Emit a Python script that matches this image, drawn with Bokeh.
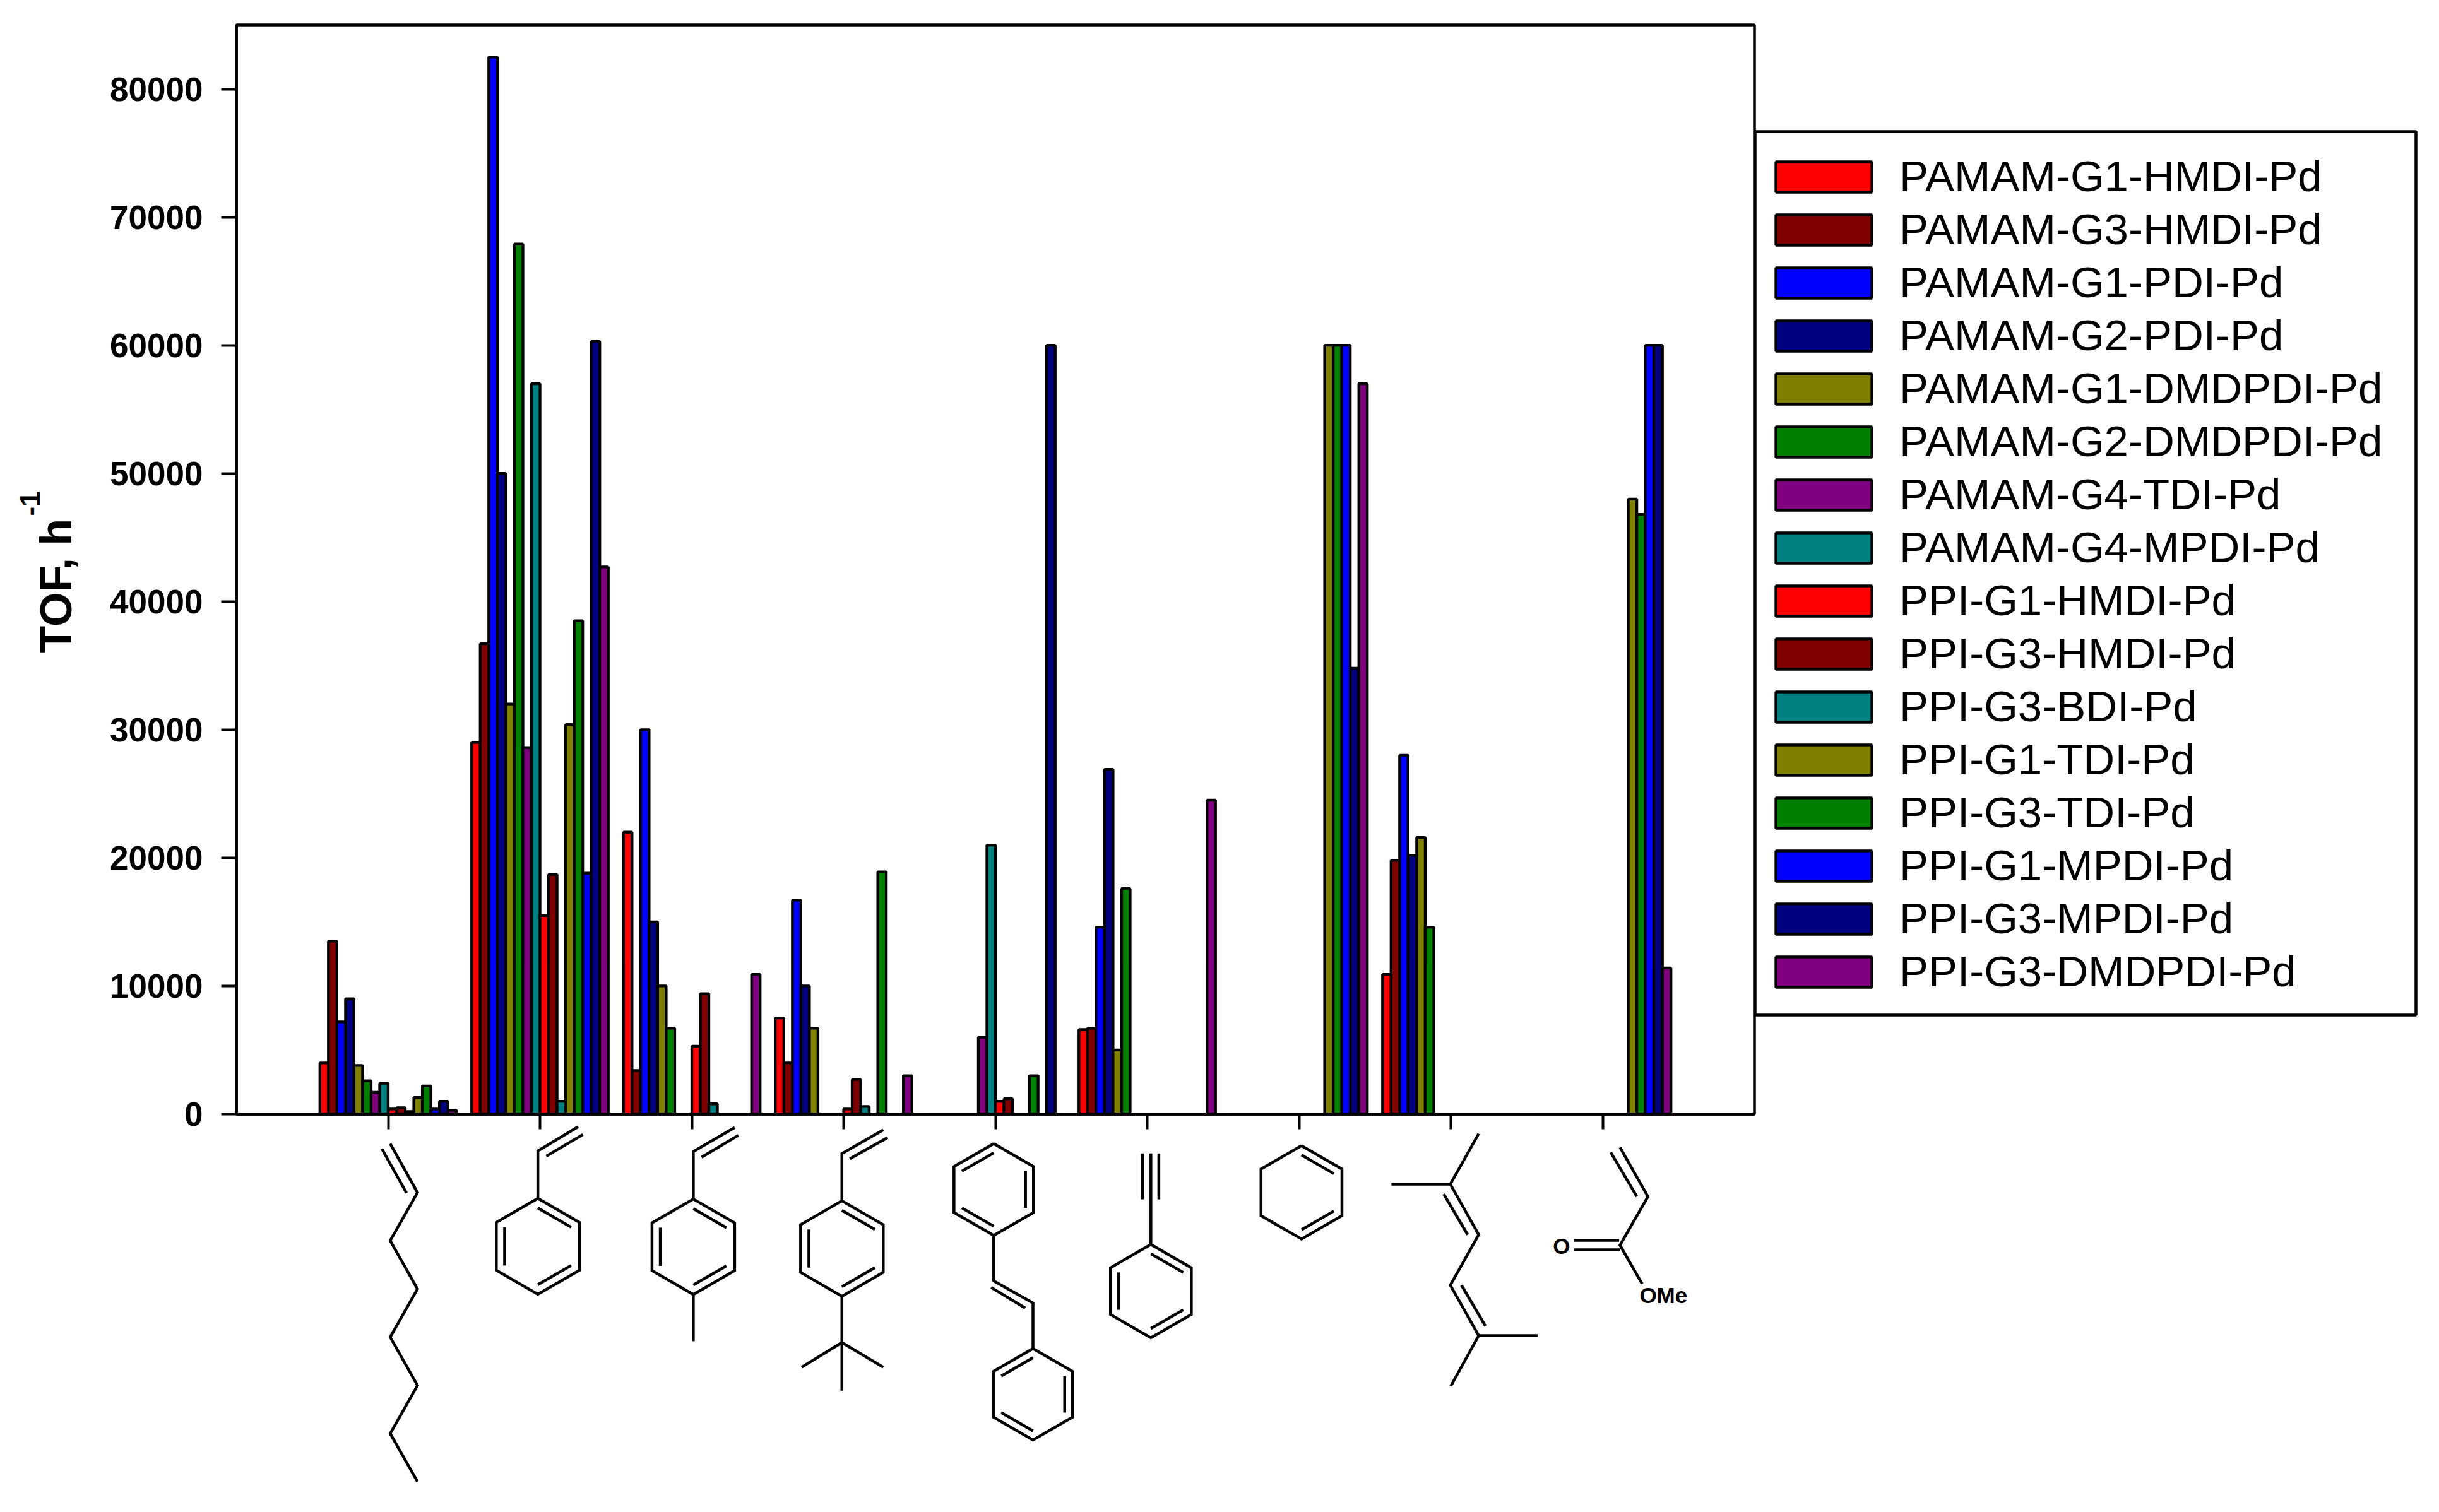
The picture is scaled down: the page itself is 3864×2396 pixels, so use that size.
import math
import numpy as np
from bokeh.plotting import figure
from bokeh.core.properties import value
from bokeh.models import Range1d, FixedTicker, Legend, LegendItem
from bokeh.embed import file_html
from bokeh.resources import INLINE

# TOF values, one list per catalyst, one entry per substrate (left to right)
substrate_pos = [1, 2, 3, 4, 5, 6, 7, 8, 9]
pamam_g1_hmdi = [4000, 29000, 22000, 7500, 0, 6600, 0, 10900, 0]
pamam_g3_hmdi = [13500, 36700, 3400, 4000, 0, 6700, 0, 19800, 0]
pamam_g1_pdi = [7200, 82500, 30000, 16700, 0, 14600, 0, 28000, 0]
pamam_g2_pdi = [9000, 50000, 15000, 10000, 0, 26900, 0, 20200, 0]
pamam_g1_dmdpdi = [3800, 32000, 10000, 6700, 0, 5000, 0, 21600, 0]
pamam_g2_dmdpdi = [2600, 67900, 6700, 0, 0, 17600, 0, 14600, 0]
pamam_g4_tdi = [1700, 28600, 0, 0, 6000, 0, 0, 0, 0]
pamam_g4_mpdi = [2400, 57000, 0, 0, 21000, 0, 0, 0, 0]
ppi_g1_hmdi = [400, 15500, 5300, 400, 1000, 0, 0, 0, 0]
ppi_g3_hmdi = [500, 18700, 9400, 2700, 1200, 0, 0, 0, 0]
ppi_g3_bdi = [200, 1000, 800, 600, 0, 0, 0, 0, 0]
ppi_g1_tdi = [1300, 30400, 0, 0, 0, 0, 60000, 0, 48000]
ppi_g3_tdi = [2200, 38500, 0, 18900, 3000, 0, 60000, 0, 46800]
ppi_g1_mpdi = [400, 18800, 0, 0, 0, 0, 60000, 0, 60000]
ppi_g3_mpdi = [1000, 60300, 0, 0, 60000, 0, 34800, 0, 60000]
ppi_g3_dmdpdi = [300, 42700, 10900, 3000, 0, 24500, 57000, 0, 11400]

series = [pamam_g1_hmdi, pamam_g3_hmdi, pamam_g1_pdi, pamam_g2_pdi,
          pamam_g1_dmdpdi, pamam_g2_dmdpdi, pamam_g4_tdi, pamam_g4_mpdi,
          ppi_g1_hmdi, ppi_g3_hmdi, ppi_g3_bdi, ppi_g1_tdi,
          ppi_g3_tdi, ppi_g1_mpdi, ppi_g3_mpdi, ppi_g3_dmdpdi]
names = ["PAMAM-G1-HMDI-Pd", "PAMAM-G3-HMDI-Pd", "PAMAM-G1-PDI-Pd", "PAMAM-G2-PDI-Pd",
         "PAMAM-G1-DMDPDI-Pd", "PAMAM-G2-DMDPDI-Pd", "PAMAM-G4-TDI-Pd", "PAMAM-G4-MPDI-Pd",
         "PPI-G1-HMDI-Pd", "PPI-G3-HMDI-Pd", "PPI-G3-BDI-Pd", "PPI-G1-TDI-Pd",
         "PPI-G3-TDI-Pd", "PPI-G1-MPDI-Pd", "PPI-G3-MPDI-Pd", "PPI-G3-DMDPDI-Pd"]
colors = ["#FF0000", "#800000", "#0000FF", "#000080", "#808000", "#008000", "#800080", "#008080",
          "#FF0000", "#800000", "#008080", "#808000", "#008000", "#0000FF", "#000080", "#800080"]
y_ticks = [0, 10000, 20000, 30000, 40000, 50000, 60000, 70000, 80000]

FONT = "Liberation Sans"
bar_w = 0.05625

# frame position in the picture, used to place things outside the frame
left, top, frame_w, frame_h = 374, 39, 2405, 1726


def xd(px):
    return (px - left) / frame_w * 10


def yd(py):
    return (top + frame_h - py) / frame_h * 85000


p = figure(frame_width=frame_w, frame_height=frame_h, output_backend="svg", toolbar_location=None,
           x_range=Range1d(0, 10), y_range=Range1d(0, 85000),
           min_border_left=left, min_border_top=top,
           min_border_right=0, min_border_bottom=2380 - top - frame_h)
p.grid.visible = False
p.background_fill_color = "white"
p.border_fill_color = "white"
p.outline_line_color = "black"
p.outline_line_width = 4.5

p.xaxis.ticker = FixedTicker(ticks=substrate_pos)
p.xaxis.major_label_overrides = {i: "" for i in substrate_pos}
p.xaxis.major_label_standoff = 0
p.xaxis.major_tick_line_width = 4
p.xaxis.major_tick_out = 24
p.xaxis.major_tick_in = 0
p.xaxis.minor_tick_line_color = None
p.xaxis.axis_line_width = 4.5

p.yaxis.ticker = FixedTicker(ticks=y_ticks)
p.yaxis.major_label_text_font = FONT
p.yaxis.major_label_text_font_style = "bold"
p.yaxis.major_label_text_font_size = "53px"
p.yaxis.major_label_text_color = "black"
p.yaxis.major_label_standoff = 29
p.yaxis.major_tick_line_width = 4
p.yaxis.major_tick_out = 24
p.yaxis.major_tick_in = 0
p.yaxis.minor_tick_line_color = None
p.yaxis.axis_line_width = 4.5

items = []
for j, vals in enumerate(series):
    xs = np.array(substrate_pos) + (j - 7.5) * bar_w
    r = p.vbar(x=xs, top=vals, bottom=0, width=bar_w, fill_color=colors[j],
               line_color="black", line_width=4.3)
    items.append(LegendItem(label=names[j], renderers=[r]))

# the legend frame, legend itself has uneven padding that Legend can't do
p.quad(left=[xd(2780)], right=[xd(3827)], top=[yd(208)], bottom=[yd(1608)],
       fill_color="white", line_color="black", line_width=4.5, level="overlay")

legend = Legend(items=items, location=(15, 186), margin=0, padding=0,
                glyph_width=190, glyph_height=60, label_height=60, label_width=760,
                spacing=5, label_standoff=25, border_line_color=None,
                background_fill_alpha=0,
                label_text_font=FONT, label_text_font_size="69px",
                label_text_color="black", label_text_baseline="middle")
p.add_layout(legend, "right")


# the substrate structures, in picture pixels
def ring(cx, cy, r, doubles):
    pts = [(cx + r * math.sin(k * math.pi / 3), cy - r * math.cos(k * math.pi / 3)) for k in range(6)]
    lines = [pts + [pts[0]]]
    for k in doubles:
        a, b = pts[k], pts[(k + 1) % 6]
        lines.append([(cx + 0.8 * (a[0] - cx), cy + 0.8 * (a[1] - cy)),
                      (cx + 0.8 * (b[0] - cx), cy + 0.8 * (b[1] - cy))])
    return lines


octene = [
    [(617.7, 1811.8), (660.9, 1889.3), (617.7, 1965.5), (660.9, 2042.1), (617.7, 2118.3),
     (660.9, 2195), (617.7, 2271.2), (660.9, 2347.4)],
    [(604.5, 1820), (643.5, 1890)],
]
styrene = [
    [(915.4, 1785), (851.6, 1823.3), (851.6, 1898.3)],
    [(922.9, 1797.4), (864.9, 1831.6)],
] + ring(851.6, 1974.5, 76, [0, 2, 4])
methylstyrene = [
    [(1163.4, 1786.3), (1097.9, 1824.2), (1097.9, 1899.6)],
    [(1169.2, 1798.6), (1111, 1833.2)],
    [(1097.9, 2050.8), (1097.9, 2124.9)],
] + ring(1097.9, 1975.2, 75.6, [0, 2, 4])
tbu_styrene = [
    [(1398.9, 1790), (1333.3, 1827.5), (1333.3, 1902.4)],
    [(1405.5, 1802.3), (1345.8, 1835.7)],
    [(1333.3, 2053.6), (1333.3, 2203.2)],
    [(1269.5, 2166.1), (1333.3, 2127), (1398.9, 2166.1)],
] + ring(1333.3, 1978, 75.6, [0, 2, 4])
stilbene = [
    [(1573.8, 1957.2), (1573.8, 2029.3), (1636, 2064.4), (1636, 2136.5)],
    [(1569.7, 2039.6), (1623.6, 2072.2)],
] + ring(1573.8, 1884.5, 72.7, [5, 1, 3]) + ring(1636, 2209, 72.5, [5, 1, 3])
phenylacetylene = [
    [(1822.8, 1827.3), (1822.8, 1971.7)],
    [(1809.5, 1827.3), (1809.5, 1900)],
    [(1835.4, 1827.3), (1835.4, 1900)],
] + ring(1822.8, 2045.5, 74, [0, 2, 4])
cyclohexadiene = ring(2061.4, 1889, 74, [0, 2])
alloocimene = [
    [(2342.1, 1796), (2297.2, 1876), (2342.1, 1956), (2297.2, 2036), (2342.1, 2116), (2297.9, 2196)],
    [(2203.9, 1876), (2297.2, 1876)],
    [(2342.1, 2116), (2435.4, 2116)],
    [(2286.7, 1891.7), (2324.6, 1956)],
    [(2314.8, 2036), (2352.7, 2100.7)],
]
acrylate = [
    [(2566, 1817.7), (2610.2, 1895.7), (2566, 1972.7), (2601.1, 2034)],
    [(2551.3, 1825.7), (2592.7, 1895.7)],
    [(2493, 1965), (2564.6, 1965)],
    [(2493, 1980), (2566, 1980)],
]
structures = octene + styrene + methylstyrene + tbu_styrene + stilbene + phenylacetylene + cyclohexadiene + alloocimene + acrylate

p.multi_line(xs=[[xd(a[0]) for a in line] for line in structures],
             ys=[[yd(a[1]) for a in line] for line in structures],
             line_color="black", line_width=4.5, line_join="miter", level="overlay")

p.text(x=[xd(2473.4), xd(2634.8)], y=[yd(1974), yd(2051.5)], text=["O", "OMe"],
       text_font=value(FONT), text_font_style="bold", text_font_size="35px",
       text_align="center", text_baseline="middle", text_color="black", level="overlay")

# y title, rotated, with the superscript as its own piece
p.text(x=[xd(88)], y=[yd(1034)], text=["TOF, h"], text_font=value(FONT), text_font_style="bold",
       text_font_size="70px", angle=math.pi / 2, text_align="left",
       text_baseline="alphabetic", text_color="black", level="overlay")
p.text(x=[xd(47)], y=[yd(817)], text=["-1"], text_font=value(FONT), text_font_style="bold",
       text_font_size="44px", angle=math.pi / 2, text_align="left",
       text_baseline="alphabetic", text_color="black", level="overlay")

open("out.html", "w").write(file_html(p, INLINE))
